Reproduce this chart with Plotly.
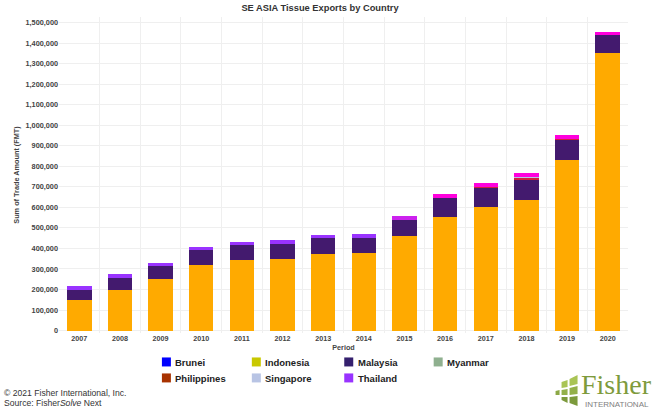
"""SE Asia tissue exports, stacked by country."""

import plotly.graph_objects as go

years = ["2007", "2008", "2009", "2010", "2011", "2012", "2013",
         "2014", "2015", "2016", "2017", "2018", "2019", "2020"]

brunei = [0] * 14
indonesia = [151000, 197000, 250000, 318000, 343000, 349000, 375000,
             379000, 461000, 551000, 603000, 638000, 830000, 1350000]
malaysia = [47000, 60000, 64000, 72000, 73000, 72000, 75000,
            73000, 77000, 94000, 92000, 96000, 102000, 91000]
myanmar = [0] * 14
philippines = [0, 0, 0, 0, 0, 0, 0, 0, 0, 0, 5000, 13000, 2000, 0]
singapore = [0, 0, 0, 0, 0, 0, 0, 0, 0, 0, 0, 3000, 0, 0]
thailand = [20000, 16000, 14000, 15000, 16000, 18000, 15000,
            18000, 19000, 19000, 18000, 15000, 18000, 13000]

tick_vals = list(range(0, 1500001, 100000))

PURPLE = "#9933FF"
thailand_colors = [PURPLE] * 8 + ["#CC22EE"] + ["#FF00DD"] * 5

series = [
    ("Brunei", brunei, "#0000FF"),
    ("Indonesia", indonesia, "#FFAA00"),
    ("Malaysia", malaysia, "#431A6E"),
    ("Myanmar", myanmar, "#8FB08F"),
    ("Philippines", philippines, "#D02040"),
    ("Singapore", singapore, "#B8C4E4"),
    ("Thailand", thailand, thailand_colors),
]

# the swatches don't all use the bar colour, and sit much closer to the text than a plotly legend allows
legend_items = [
    ("Brunei", "#0000FF", 162, 362), ("Indonesia", "#C8C800", 252, 362),
    ("Malaysia", "#35206E", 344.5, 362), ("Myanmar", "#8FB08F", 434, 362),
    ("Philippines", "#A83200", 162, 378), ("Singapore", "#B8C4E4", 252, 378),
    ("Thailand", PURPLE, 344.5, 378),
]

# logo tiles, as (x0, y0, x1, y1, x2, y2, x3, y3, colour) in pixels
logo_tiles = [
    (570, 379, 578, 375, 578, 384, 570, 386, "#A9C455"), (570, 388, 578, 386, 578, 394, 570, 395, "#93B04A"),
    (570, 397, 578, 396, 578, 406, 570, 403, "#7C9A3C"), (562, 382, 568, 380, 568, 387, 562, 388, "#A9C455"),
    (562, 390, 568, 389, 568, 395, 562, 395, "#93B04A"), (562, 397, 568, 397, 568, 403, 562, 400, "#7C9A3C"),
    (556, 391, 560, 390, 560, 395, 556, 395, "#8CA845"),
]

L, R, T, B = 59, 28.5, 16.5, 78
PLOT_W = 657 - L - R
PLOT_H = 411 - T - B


def px(x):
    return (x - L) / PLOT_W


def py(y):
    return (411 - B - y) / PLOT_H


fig = go.Figure()
for name, values, color in series:
    fig.add_trace(go.Bar(x=years, y=values, name=name, marker_color=color,
                         marker_line_width=0, showlegend=False))

fig.update_layout(
    width=657, height=411, autosize=False,
    paper_bgcolor="white", plot_bgcolor="white",
    barmode="stack", bargap=0.4, hovermode=False,
    margin=dict(l=L, r=R, t=T, b=B),
    title=dict(text="<b>SE ASIA Tissue Exports by Country</b>", x=320 / 657, xanchor="center",
               y=1 - 8 / 411, yanchor="middle",
               font=dict(family="Liberation Sans", size=9.3, color="#333333")),
    font=dict(family="Liberation Sans", color="#444444"),
)
fig.update_xaxes(
    type="category", categoryorder="array", categoryarray=years, range=[-0.5, 13.5],
    tickson="boundaries", ticks="", showline=False,
    showgrid=True, gridcolor="#EFEFEF", gridwidth=1,
    tickfont=dict(size=7.2, color="#444444", weight="bold"),
    title=dict(text="<b>Period</b>", font=dict(size=7.2, color="#444444"), standoff=2),
)
fig.update_yaxes(
    range=[-12000, 1527000], tickvals=tick_vals, tickformat=",", ticks="",
    showline=False, zeroline=False, showgrid=True, gridcolor="#EFEFEF", gridwidth=1,
    tickfont=dict(size=7.3, color="#444444", weight="bold"),
    title=dict(text="<b>Sum of Trade Amount (FMT)</b>", font=dict(size=7.3, color="#444444"), standoff=4),
)

for name, color, x, y in legend_items:
    fig.add_shape(type="rect", xref="paper", yref="paper", x0=px(x), x1=px(x + 9),
                  y0=py(y + 4.5), y1=py(y - 4.5), fillcolor=color, line_width=0)
    fig.add_annotation(text=f"<b>{name}</b>", xref="paper", yref="paper", x=px(x + 11.5), y=py(y + 0.5),
                       xanchor="left", yanchor="middle", showarrow=False,
                       font=dict(family="Liberation Sans", size=9.5, color="#222222"))

# footer
fig.add_annotation(text="© 2021 Fisher International, Inc.", xref="paper", yref="paper", x=px(2), y=py(393),
                   xanchor="left", yanchor="middle", showarrow=False,
                   font=dict(family="Liberation Sans", size=8.6, color="#333333"))
fig.add_annotation(text="Source: Fisher<i>Solve</i> Next", xref="paper", yref="paper", x=px(2), y=py(403.5),
                   xanchor="left", yanchor="middle", showarrow=False,
                   font=dict(family="Liberation Sans", size=8.6, color="#333333"))

# logo
for x0, y0, x1, y1, x2, y2, x3, y3, tile_color in logo_tiles:
    fig.add_shape(type="path", xref="paper", yref="paper", line_width=0, fillcolor=tile_color,
                  path=f"M{px(x0)},{py(y0)} L{px(x1)},{py(y1)} L{px(x2)},{py(y2)} L{px(x3)},{py(y3)} Z")
fig.add_annotation(text="Fisher", xref="paper", yref="paper", x=px(617), y=py(384.5),
                   xanchor="center", yanchor="middle", showarrow=False,
                   font=dict(family="Liberation Serif", size=28, color="#7E9B3C"))
fig.add_annotation(text="INTERNATIONAL", xref="paper", yref="paper", x=px(617), y=py(404.5),
                   xanchor="center", yanchor="middle", showarrow=False,
                   font=dict(family="Liberation Sans", size=8, color="#808080"))

# the browser's default body margin would push the figure off the window
fig.write_html("out.html", config={"displayModeBar": False},
               post_script="document.body.style.margin = '0';")
